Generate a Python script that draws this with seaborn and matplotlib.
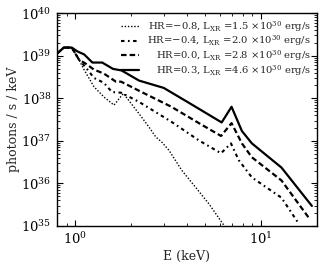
import numpy as np
import pandas as pd
import matplotlib
matplotlib.use("Agg")
import matplotlib.pyplot as plt
import seaborn as sns

# ---- data ----
labels = [
    r"HR=$-$0.8, L$_{\rm XR}$ =1.5 $\times$10$^{30}$ erg/s",
    r"HR=$-$0.4, L$_{\rm XR}$ =2.0 $\times$10$^{30}$ erg/s",
    r"HR=0.0, L$_{\rm XR}$ =2.8 $\times$10$^{30}$ erg/s",
    r"HR=0.3, L$_{\rm XR}$ =4.6 $\times$10$^{30}$ erg/s",
]

E_m08 = [0.8, 0.87, 0.96, 1.05, 1.118, 1.265, 1.43, 1.62, 1.82, 2.26, 2.5, 2.72,
         2.93, 3.2, 3.76, 4.47, 5.25, 6.48]
F_m08 = [1.12e39, 1.55e39, 1.55e39, 8.1e38, 4.7e38, 1.86e38, 1.07e38, 6.9e37,
         1.3e38, 3.8e37, 2.1e37, 1.23e37, 9.3e36, 6.0e36, 2.0e36, 7.9e35,
         3.3e35, 8.9e34]

E_m04 = [0.8, 0.87, 0.96, 1.05, 1.146, 1.265, 1.43, 1.58, 1.77, 2.2, 3.3, 4.64,
         6.10, 6.9, 7.6, 8.94, 12.9, 16.0]
F_m04 = [1.12e39, 1.55e39, 1.55e39, 8.1e38, 5.2e38, 3.0e38, 2.3e38, 1.4e38,
         1.35e38, 8.3e37, 2.8e37, 1.02e37, 5.1e36, 8.7e36, 3.5e36, 1.38e36,
         4.6e35, 1.12e35]

E_00 = [0.8, 0.87, 0.96, 1.05, 1.16, 1.265, 1.43, 1.66, 1.77, 2.21, 3.3, 4.64,
        6.10, 6.95, 7.9, 8.94, 12.9, 18.1]
F_00 = [1.12e39, 1.55e39, 1.55e39, 8.1e38, 6.2e38, 4.7e38, 3.8e38, 2.45e38,
        2.45e38, 1.5e38, 6.3e37, 2.6e37, 1.3e37, 2.6e37, 8.7e36, 4.1e36,
        1.17e36, 1.55e35]

E_03 = [0.8, 0.87, 0.96, 1.03, 1.12, 1.24, 1.40, 1.60, 1.78, 2.21, 3.0, 4.1,
        6.15, 6.95, 7.9, 8.94, 12.9, 18.8]
F_03 = [1.12e39, 1.55e39, 1.55e39, 1.26e39, 1.07e39, 6.9e38, 6.9e38, 4.9e38,
        4.5e38, 2.6e38, 1.75e38, 7.8e37, 2.7e37, 6.3e37, 1.7e37, 8.7e36,
        2.35e36, 2.95e35]

series_E = [E_m08, E_m04, E_00, E_03]
series_F = [F_m08, F_m04, F_00, F_03]

# ---- style ----
sns.set_style("ticks")
plt.rcParams["font.family"] = ["DejaVu Serif"]
plt.rcParams["mathtext.fontset"] = "dejavuserif"
plt.rcParams["lines.scale_dashes"] = False
plt.rcParams.update({
    "xtick.direction": "in", "ytick.direction": "in",
    "xtick.top": True, "ytick.right": True,
    "xtick.minor.visible": True, "ytick.minor.visible": True,
    "axes.edgecolor": "black", "axes.linewidth": 1.0,
    "xtick.color": "black", "ytick.color": "black",
    "xtick.major.size": 4, "ytick.major.size": 4,
    "xtick.minor.size": 2, "ytick.minor.size": 2,
})

fig = plt.figure(figsize=(3.24, 2.68), dpi=100)
ax = fig.add_axes([0.176, 0.157, 0.802, 0.794])

styles = [
    dict(lw=1.0, dashes=(1.0, 1.3)),
    dict(lw=1.5, dashes=(2.5, 2.5, 1.2, 2.5)),
    dict(lw=1.6, dashes=(4.0, 2.2)),
    dict(lw=1.6, linestyle="-"),
]

for E, F, lab, st in zip(series_E, series_F, labels, styles):
    df = pd.DataFrame({"E": E, "F": F})
    sns.lineplot(data=df, x="E", y="F", ax=ax, color="black", label=lab,
                 estimator=None, sort=False, **st)

ax.set_xscale("log")
ax.set_yscale("log")
ax.set_xlim(0.8, 20)
ax.set_ylim(1e35, 1e40)
ax.set_xlabel("E (keV)", fontsize=9, labelpad=2)
ax.set_ylabel("photons / s / keV", fontsize=9, labelpad=1)
ax.tick_params(which="both", labelsize=9.5, top=True, right=True, direction="in")
ax.tick_params(which="major", pad=4)

leg = ax.legend(loc="upper right", frameon=False, fontsize=7.2,
                handlelength=1.8, handletextpad=0.8, labelspacing=0.0,
                borderaxespad=0.1, borderpad=0.5)

# right-align the legend texts, keeping the handles on the left
fig.canvas.draw()
r = fig.canvas.get_renderer()
widths = [t.get_window_extent(r).width for t in leg.get_texts()]
mx = max(widths)
try:
    col = leg._legend_box._children[1]._children[0]
    for item, w in zip(col._children, widths):
        item.sep += (mx - w) * 72.0 / fig.dpi
except Exception:
    pass

fig.savefig("out.png", dpi=100)
